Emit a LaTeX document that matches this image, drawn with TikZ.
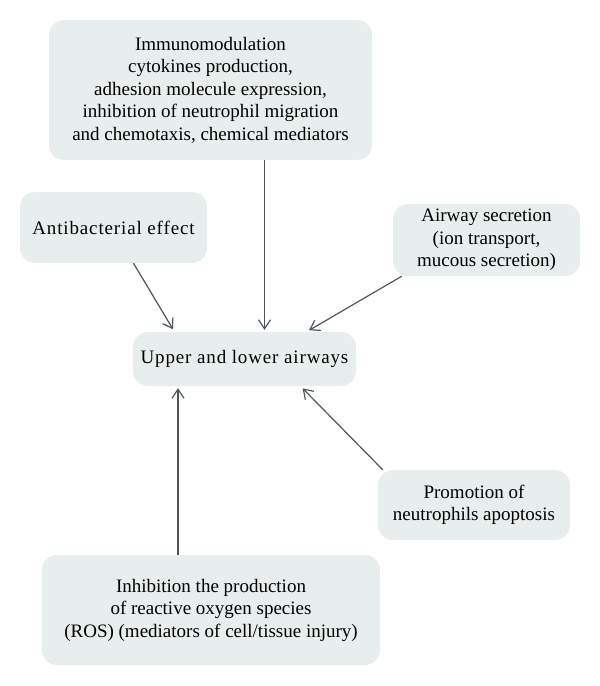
\documentclass[tikz,border=0pt]{standalone}
\usepackage{fontspec}
\setmainfont{Liberation Serif}
\usetikzlibrary{arrows.meta}
\definecolor{boxfill}{HTML}{E8EEED}
\definecolor{arrowgray}{HTML}{4F5459}
\begin{document}
\begin{tikzpicture}[x=1pt,y=-1pt,
        effect/.style={fill=boxfill,rounded corners=15pt,inner sep=0pt,align=center,
            font=\fontsize{19}{22.5}\selectfont},
        spaced/.style={font=\fontsize{19}{22.5}\selectfont\addfontfeatures{LetterSpace=4.5}},
        arr/.style={draw=arrowgray,line width=1.2pt,-{Straight Barb[length=9pt,width=12pt]}}]
    \useasboundingbox (0,0) rectangle (600,686);

    \node[effect,minimum width=323pt,minimum height=140pt] (immuno) at (210.5,90)
        {Immunomodulation\\cytokines production,\\adhesion molecule expression,\\
         inhibition of neutrophil migration\\and chemotaxis, chemical mediators};
    \node[effect,spaced,minimum width=187pt,minimum height=71pt] (antibac) at (113.5,227.5)
        {Antibacterial effect};
    \node[effect,minimum width=187pt,minimum height=72pt] (secretion) at (486.5,240)
        {Airway secretion\\(ion transport,\\mucous secretion)};
    \node[effect,spaced,minimum width=223pt,minimum height=54pt] (airways) at (244.5,359)
        {Upper and lower airways};
    \node[effect,minimum width=192pt,minimum height=70pt] (apoptosis) at (474,505)
        {Promotion of\\neutrophils apoptosis};
    \node[effect,minimum width=338pt,minimum height=110pt] (ros) at (211,610)
        {Inhibition the production\\of reactive oxygen species\\(ROS) (mediators of cell/tissue injury)};

    \draw[arr,shorten >=2pt] ([xshift=54pt]immuno.south) -- ([xshift=20pt]airways.north);
    \draw[arr,shorten >=3pt] ([xshift=20pt]antibac.south) -- ([xshift=-70pt]airways.north);
    \draw[arr,shorten >=3pt] ([xshift=9pt]secretion.south west) -- ([xshift=62pt]airways.north);
    \draw[arr,shorten >=2pt] ([xshift=-33pt]ros.north) -- ([xshift=-66.5pt]airways.south);
    \draw[arr,shorten >=3pt] ([xshift=5pt]apoptosis.north west) -- ([xshift=56pt]airways.south);
\end{tikzpicture}
\end{document}
